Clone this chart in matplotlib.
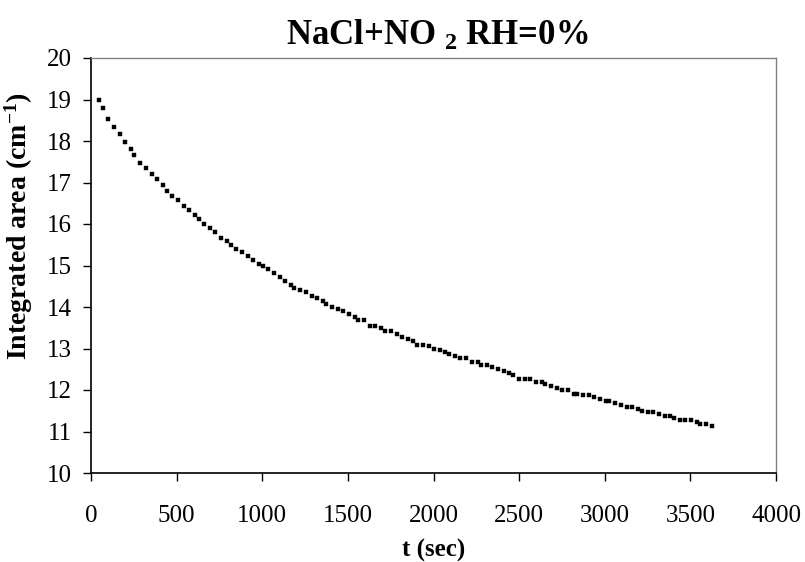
import matplotlib
matplotlib.use("Agg")
import matplotlib.pyplot as plt

plt.rcParams['font.family'] = ['Liberation Serif', 'DejaVu Serif']
plt.rcParams['mathtext.default'] = 'regular'

t_sec = [44, 68, 101, 134, 167, 200, 233, 254, 288, 321, 354, 387, 420, 441, 475, 508,
         541, 574, 607, 628, 661, 695, 727, 761, 794, 815, 848, 881, 914, 947, 981, 1002,
         1035, 1068, 1101, 1134, 1167, 1188, 1222, 1255, 1288, 1321, 1354, 1375, 1408, 1442,
         1474, 1508, 1541, 1562, 1595, 1629, 1661, 1694, 1718, 1751, 1784, 1817, 1850, 1883,
         1905, 1938, 1971, 2004, 2037, 2070, 2091, 2125, 2157, 2191, 2224, 2257, 2278, 2311,
         2344, 2377, 2411, 2443, 2467, 2500, 2533, 2566, 2599, 2632, 2654, 2687, 2720, 2753,
         2786, 2819, 2840, 2874, 2907, 2940, 2973, 3006, 3027, 3060, 3094, 3129, 3161, 3195,
         3218, 3251, 3284, 3317, 3350, 3383, 3405, 3438, 3471, 3504, 3537, 3558, 3592, 3625]

area = [18.98, 18.79, 18.53, 18.33, 18.16, 17.98, 17.80, 17.66, 17.48, 17.34, 17.20, 17.08,
        16.94, 16.80, 16.67, 16.58, 16.44, 16.34, 16.22, 16.12, 16.00, 15.90, 15.81, 15.67,
        15.59, 15.49, 15.40, 15.32, 15.22, 15.13, 15.04, 14.99, 14.91, 14.81, 14.73, 14.63,
        14.54, 14.46, 14.40, 14.35, 14.27, 14.22, 14.14, 14.08, 13.99, 13.95, 13.90, 13.82,
        13.77, 13.68, 13.68, 13.54, 13.54, 13.50, 13.41, 13.41, 13.36, 13.27, 13.22, 13.19,
        13.09, 13.09, 13.05, 13.00, 12.96, 12.92, 12.86, 12.82, 12.78, 12.78, 12.68, 12.68,
        12.60, 12.60, 12.55, 12.51, 12.46, 12.42, 12.36, 12.27, 12.27, 12.27, 12.19, 12.19,
        12.14, 12.10, 12.05, 12.00, 12.00, 11.91, 11.91, 11.87, 11.87, 11.83, 11.78, 11.73,
        11.73, 11.69, 11.64, 11.60, 11.60, 11.55, 11.50, 11.47, 11.47, 11.42, 11.38, 11.38,
        11.33, 11.28, 11.28, 11.28, 11.23, 11.19, 11.19, 11.14]

x_ticks = [0, 500, 1000, 1500, 2000, 2500, 3000, 3500, 4000]
y_ticks = [10, 11, 12, 13, 14, 15, 16, 17, 18, 19, 20]

W, H = 805, 562
fig = plt.figure(figsize=(W / 100, H / 100), dpi=100)
ax = fig.add_axes([91 / W, 1 - 473 / H, 685 / W, 415 / H])

ax.plot(t_sec, area, linestyle='none', marker='s', markersize=3,
        markerfacecolor='black', markeredgecolor='black', markeredgewidth=0.3)

ax.set_xlim(0, 4000)
ax.set_ylim(10, 20)
ax.set_xticks(x_ticks)
ax.set_yticks(y_ticks)
ax.tick_params(axis='both', direction='out', length=6, width=1, color='black',
               labelsize=18)
ax.tick_params(axis='x', pad=17)
ax.tick_params(axis='y', pad=8)

for s in ['top', 'right']:
    ax.spines[s].set_color('#808080')
    ax.spines[s].set_linewidth(1)
for s in ['left', 'bottom']:
    ax.spines[s].set_color('black')
    ax.spines[s].set_linewidth(1.2)

ax.set_xlabel('t (sec)', fontsize=18, fontweight='bold')
ax.xaxis.set_label_coords(0.5, -0.158)
ax.set_ylabel('Integrated area (cm$^{-1}$)', fontsize=20, fontweight='bold')
ax.yaxis.set_label_coords(-0.082, 0.595)

fig.text(437 / W, 1 - 45 / H, 'NaCl+NO $_{2}$ RH=0%', ha='center', va='baseline',
         fontsize=25, fontweight='bold')

fig.savefig('out.png', dpi=100)
